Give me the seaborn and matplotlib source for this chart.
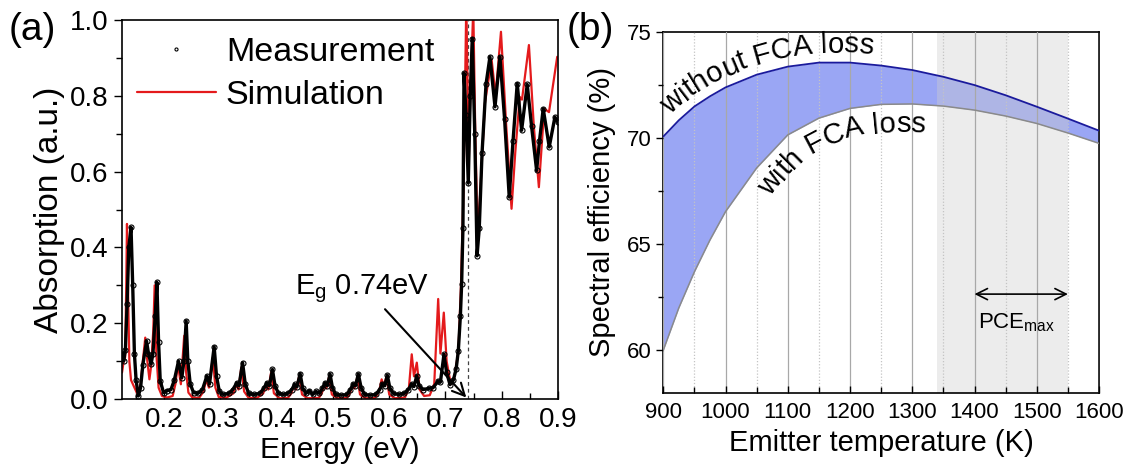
import numpy as np
import matplotlib
matplotlib.use("Agg")
import matplotlib.pyplot as plt
import seaborn as sns
from matplotlib.lines import Line2D
from matplotlib.ticker import MultipleLocator
from matplotlib.transforms import IdentityTransform

# ---------------- data: panel (a) ----------------
meas_energy = [0.125, 0.128, 0.131, 0.134, 0.137, 0.141, 0.144, 0.147, 0.150, 0.154,
               0.158, 0.162, 0.1686, 0.172, 0.1766, 0.180, 0.184, 0.187, 0.190, 0.1929,
               0.1988, 0.205, 0.212, 0.218, 0.2254, 0.2313, 0.235, 0.239, 0.242, 0.2462,
               0.2521, 0.260, 0.268, 0.2758, 0.2805, 0.2888, 0.293, 0.298, 0.305, 0.315,
               0.322, 0.3291, 0.333, 0.3393, 0.344, 0.350, 0.360, 0.370, 0.377, 0.3824,
               0.387, 0.3924, 0.397, 0.403, 0.412, 0.420, 0.427, 0.4316, 0.436, 0.4416,
               0.446, 0.452, 0.458, 0.464, 0.470, 0.476, 0.481, 0.486, 0.490, 0.4948,
               0.499, 0.505, 0.515, 0.525, 0.531, 0.536, 0.540, 0.5451, 0.550, 0.556,
               0.566, 0.576, 0.583, 0.588, 0.592, 0.5966, 0.601, 0.607, 0.617, 0.627,
               0.634, 0.640, 0.644, 0.6489, 0.653, 0.660, 0.670, 0.678, 0.6872, 0.691,
               0.6973, 0.702, 0.708, 0.714, 0.719, 0.7228, 0.7265, 0.7287, 0.7310, 0.7329,
               0.7365, 0.7405, 0.7440, 0.7476, 0.7520, 0.7561, 0.7600, 0.7650, 0.7720, 0.779,
               0.788, 0.7968, 0.805, 0.8133, 0.820, 0.8275, 0.8353, 0.8453, 0.853, 0.862,
               0.867, 0.8737, 0.8844, 0.8945, 0.900]
meas_absorption = [0.12, 0.10, 0.13, 0.25, 0.40, 0.453, 0.30, 0.12, 0.05, 0.008,
                   0.03, 0.09, 0.153, 0.12, 0.092, 0.12, 0.22, 0.308, 0.15, 0.048,
                   0.017, 0.022, 0.025, 0.05, 0.10, 0.056, 0.10, 0.206, 0.10, 0.04,
                   0.017, 0.015, 0.025, 0.061, 0.04, 0.138, 0.06, 0.02, 0.012, 0.015,
                   0.025, 0.043, 0.035, 0.096, 0.04, 0.015, 0.012, 0.015, 0.028, 0.043,
                   0.035, 0.078, 0.035, 0.015, 0.012, 0.015, 0.025, 0.039, 0.032, 0.067,
                   0.03, 0.015, 0.022, 0.012, 0.02, 0.015, 0.028, 0.043, 0.035, 0.066,
                   0.03, 0.012, 0.01, 0.012, 0.025, 0.04, 0.035, 0.066, 0.03, 0.012,
                   0.01, 0.012, 0.025, 0.04, 0.035, 0.063, 0.03, 0.015, 0.012, 0.015,
                   0.025, 0.04, 0.033, 0.061, 0.035, 0.025, 0.028, 0.03, 0.048, 0.045,
                   0.118, 0.07, 0.038, 0.05, 0.08, 0.127, 0.22, 0.303, 0.45, 0.86,
                   0.75, 0.57, 0.80, 0.951, 0.70, 0.378, 0.45, 0.65, 0.83, 0.903,
                   0.771, 0.903, 0.74, 0.533, 0.68, 0.8325, 0.709, 0.83, 0.72, 0.603,
                   0.68, 0.766, 0.665, 0.744, 0.73]

sim_energy = [0.125, 0.128, 0.1305, 0.1325, 0.1338, 0.1355, 0.138, 0.141, 0.1526, 0.158,
              0.162, 0.1663, 0.170, 0.1737, 0.177, 0.1805, 0.183, 0.186, 0.190, 0.196,
              0.205, 0.215, 0.220, 0.2243, 0.2296, 0.2355, 0.239, 0.243, 0.250, 0.262,
              0.270, 0.2746, 0.2795, 0.2864, 0.291, 0.297, 0.310, 0.323, 0.328, 0.332,
              0.337, 0.342, 0.350, 0.365, 0.376, 0.381, 0.385, 0.390, 0.395, 0.405,
              0.420, 0.426, 0.4305, 0.434, 0.440, 0.445, 0.455, 0.475, 0.480, 0.485,
              0.488, 0.493, 0.498, 0.508, 0.525, 0.530, 0.535, 0.538, 0.5435, 0.548,
              0.558, 0.575, 0.582, 0.5865, 0.590, 0.595, 0.600, 0.610, 0.628, 0.635,
              0.640, 0.644, 0.649, 0.654, 0.662, 0.672, 0.680, 0.687, 0.691, 0.697,
              0.702, 0.7095, 0.716, 0.723, 0.7275, 0.7320, 0.7346, 0.737, 0.7395, 0.741,
              0.7440, 0.7494, 0.7530, 0.757, 0.7620, 0.7700, 0.782, 0.7890, 0.7986, 0.808,
              0.8174, 0.824, 0.832, 0.836, 0.8483, 0.857, 0.866, 0.8755, 0.884, 0.8986,
              0.900]
sim_absorption = [0.07, 0.10, 0.11, 0.30, 0.462, 0.30, 0.10, 0.05, 0.012, 0.04,
                  0.10, 0.162, 0.10, 0.052, 0.09, 0.18, 0.30, 0.12, 0.03, 0.008,
                  0.004, 0.008, 0.04, 0.092, 0.039, 0.167, 0.07, 0.017, 0.004, 0.003,
                  0.02, 0.052, 0.03, 0.109, 0.03, 0.005, 0.003, 0.015, 0.038, 0.025,
                  0.083, 0.02, 0.003, 0.003, 0.015, 0.035, 0.025, 0.07, 0.015, 0.002,
                  0.003, 0.015, 0.035, 0.025, 0.06, 0.012, 0.002, 0.003, 0.015, 0.036,
                  0.028, 0.058, 0.012, 0.002, 0.003, 0.015, 0.036, 0.028, 0.058, 0.012,
                  0.002, 0.003, 0.02, 0.052, 0.035, 0.058, 0.012, 0.002, 0.004, 0.03,
                  0.118, 0.06, 0.096, 0.025, 0.008, 0.01, 0.04, 0.264, 0.12, 0.228,
                  0.10, 0.039, 0.06, 0.127, 0.30, 0.55, 0.80, 1.05, 0.80, 0.60,
                  0.80, 1.03, 0.70, 0.436, 0.55, 0.78, 0.895, 0.80, 0.969, 0.72,
                  0.502, 0.65, 0.797, 0.79, 0.934, 0.72, 0.559, 0.766, 0.757, 0.903,
                  0.90]

bandgap_ev = 0.74

# ---------------- data: panel (b) ----------------
temperature_k = [900, 925, 950, 975, 1000, 1050, 1100, 1150, 1200, 1250, 1300,
                 1350, 1400, 1450, 1500, 1550, 1600]
eff_without_fca = [70.08, 70.85, 71.5, 71.98, 72.4, 73.0, 73.38, 73.57, 73.57, 73.43, 73.22,
                   72.9, 72.51, 72.03, 71.49, 70.93, 70.36]
eff_with_fca = [60.0, 62.0, 63.7, 65.2, 66.54, 68.6, 70.16, 70.95, 71.41, 71.6, 71.62,
                71.52, 71.33, 71.05, 70.7, 70.25, 69.76]
pce_range_k = [1400, 1550]
shade_range_k = [1340, 1550]

# ---------------- style ----------------
sns.set_theme(style="ticks")
plt.rcParams["font.family"] = ["Liberation Sans", "DejaVu Sans"]
plt.rcParams["mathtext.fontset"] = "custom"
plt.rcParams["mathtext.rm"] = "Liberation Sans"
plt.rcParams["mathtext.it"] = "Liberation Sans:italic"
plt.rcParams["axes.edgecolor"] = "black"
plt.rcParams["axes.linewidth"] = 1.2
plt.rcParams["xtick.color"] = "black"
plt.rcParams["ytick.color"] = "black"
plt.rcParams["text.color"] = "black"
plt.rcParams["axes.labelcolor"] = "black"

fig = plt.figure(figsize=(11.33, 4.70), dpi=100)
axa = fig.add_axes([0.1077, 0.151, 0.3848, 0.8064])
axb = fig.add_axes([0.5854, 0.1645, 0.3846, 0.7668])

RED = "#e41a1c"

# ---------------- panel (a) ----------------
sns.lineplot(x=sim_energy, y=sim_absorption, ax=axa, color=RED, lw=1.6,
             sort=False, estimator=None, zorder=2)
sns.lineplot(x=meas_energy, y=meas_absorption, ax=axa, color="black", lw=2.4,
             sort=False, estimator=None, marker="o", markersize=3.6,
             markerfacecolor="none", markeredgecolor="black", markeredgewidth=0.8,
             zorder=3)
axa.axvline(bandgap_ev, color="#444444", ls=(0, (3, 2.5)), lw=0.9, zorder=1)

axa.set_xlim(0.125, 0.9)
axa.set_ylim(0, 1.0)
axa.xaxis.set_major_locator(MultipleLocator(0.1))
axa.xaxis.set_minor_locator(MultipleLocator(0.05))
axa.yaxis.set_major_locator(MultipleLocator(0.2))
axa.yaxis.set_minor_locator(MultipleLocator(0.1))
axa.xaxis.set_major_formatter(matplotlib.ticker.FormatStrFormatter("%.1f"))
axa.yaxis.set_major_formatter(matplotlib.ticker.FormatStrFormatter("%.1f"))
axa.tick_params(axis="x", which="both", direction="in", labelsize=20, pad=6)
axa.tick_params(axis="x", which="major", length=6, width=1.0)
axa.tick_params(axis="x", which="minor", length=4, width=1.0)
axa.tick_params(axis="y", which="both", direction="out", labelsize=20)
axa.tick_params(axis="y", which="major", length=6, width=1.0)
axa.tick_params(axis="y", which="minor", length=4, width=1.0)
axa.set_xlabel("Energy (eV)", fontsize=21.5, labelpad=2)
axa.set_ylabel("Absorption (a.u.)", fontsize=24, labelpad=4)

handles = [Line2D([], [], ls="none", marker="o", markersize=2.2, markerfacecolor="none",
                  markeredgecolor="black", markeredgewidth=0.8),
           Line2D([], [], color=RED, lw=1.6)]
axa.legend(handles, ["Measurement", "Simulation"], loc="upper left",
           bbox_to_anchor=(0.035, 0.955), frameon=False, fontsize=24.5,
           handlelength=2.3, handletextpad=0.3, labelspacing=0.36,
           borderpad=0, borderaxespad=0)

axa.annotate("", xy=(0.737, 0.004), xytext=(0.5925, 0.237),
             arrowprops=dict(arrowstyle="->", color="black", lw=1.5,
                             mutation_scale=22, shrinkA=0, shrinkB=0))
axa.text(0.433, 0.29, r"E$_\mathregular{g}$ 0.74eV", fontsize=21, va="center", ha="left")

# ---------------- panel (b) ----------------
axb.fill_between(temperature_k, eff_with_fca, eff_without_fca, color="#8f9cf3",
                 alpha=0.9, lw=0, zorder=1)
axb.axvspan(shade_range_k[0], shade_range_k[1], color="#cfcfcf", alpha=0.38, lw=0, zorder=1.5)
sns.lineplot(x=temperature_k, y=eff_without_fca, ax=axb, color="#1a1a9c", lw=1.3,
             sort=False, estimator=None, zorder=3)
sns.lineplot(x=temperature_k, y=eff_with_fca, ax=axb, color="#8a8a8a", lw=1.1,
             sort=False, estimator=None, zorder=3)

axb.set_xlim(900, 1600)
axb.set_ylim(58, 75)
axb.xaxis.set_major_locator(MultipleLocator(100))
axb.xaxis.set_minor_locator(MultipleLocator(50))
axb.yaxis.set_major_locator(MultipleLocator(5))
axb.yaxis.set_minor_locator(MultipleLocator(2.5))
axb.set_axisbelow(False)
axb.xaxis.grid(True, which="major", color="#a8a8a8", lw=0.9, ls="-")
axb.xaxis.grid(True, which="minor", color="#c4c4c4", lw=0.9, ls=(0, (1, 1.5)))
axb.tick_params(axis="x", which="both", direction="in", labelsize=16, pad=7)
axb.tick_params(axis="x", which="major", length=5, width=1.0)
axb.tick_params(axis="x", which="minor", length=4, width=1.0)
axb.tick_params(axis="y", which="both", direction="out", labelsize=16)
axb.tick_params(axis="y", which="major", length=5, width=1.0)
axb.tick_params(axis="y", which="minor", length=3.5, width=1.0)
axb.set_xlabel("Emitter temperature (K)", fontsize=21, labelpad=4)
axb.set_ylabel("Spectral efficiency (%)", fontsize=21, labelpad=8)

axb.annotate("", xy=(pce_range_k[0], 62.65), xytext=(pce_range_k[1], 62.65),
             arrowprops=dict(arrowstyle="<->", color="black", lw=1.2,
                             mutation_scale=20, shrinkA=0, shrinkB=0))
axb.text(1468, 61.3, r"PCE$_\mathregular{max}$", fontsize=16, ha="center", va="center")

fig.text(0.008, 0.975, "(a)", fontsize=28, va="top", ha="left")
fig.text(0.500, 0.975, "(b)", fontsize=28, va="top", ha="left")

# ---------------- curved labels along the curves ----------------
fig.canvas.draw()
renderer = fig.canvas.get_renderer()


def char_width(ch, fs):
    t1 = fig.text(0, 0, "l" + ch + "l", fontsize=fs)
    t2 = fig.text(0, 0, "ll", fontsize=fs)
    w = t1.get_window_extent(renderer).width - t2.get_window_extent(renderer).width
    t1.remove()
    t2.remove()
    return w


def curved_text(ax, s, xs, ys, x_start, offset, fs, smooth=16):
    # lay characters out along a path parallel to the curve (display space)
    pts = ax.transData.transform(np.column_stack([xs, ys]))
    seg = np.hypot(np.diff(pts[:, 0]), np.diff(pts[:, 1]))
    arc = np.r_[0, np.cumsum(seg)]
    sd = np.arange(0, arc[-1], 1.0)
    cx = np.interp(sd, arc, pts[:, 0])
    cy = np.interp(sd, arc, pts[:, 1])
    n = len(sd)
    idx = np.arange(n)
    i1 = np.clip(idx - smooth, 0, n - 1)
    i2 = np.clip(idx + smooth, 0, n - 1)
    ang = np.arctan2(cy[i2] - cy[i1], cx[i2] - cx[i1])
    ox = cx - offset * np.sin(ang)
    oy = cy + offset * np.cos(ang)
    oarc = np.r_[0, np.cumsum(np.hypot(np.diff(ox), np.diff(oy)))]
    xd0 = ax.transData.transform((x_start, ys[0]))[0]
    i0 = int(np.searchsorted(cx, xd0))
    s0 = oarc[i0]
    for ch in s:
        w = char_width(ch, fs)
        sc = s0 + w / 2
        bx = np.interp(sc, oarc, ox)
        by = np.interp(sc, oarc, oy)
        a = np.interp(sc, oarc, ang)
        fig.text(bx, by, ch, fontsize=fs, rotation=np.degrees(a),
                 rotation_mode="anchor", ha="center", va="baseline",
                 transform=IdentityTransform())
        s0 += w


curved_text(axb, "without FCA loss", temperature_k, eff_without_fca, 922, 10, 21)
curved_text(axb, "with FCA loss", temperature_k, eff_with_fca, 1035, -28, 21)

fig.savefig("out.png", dpi=100)
